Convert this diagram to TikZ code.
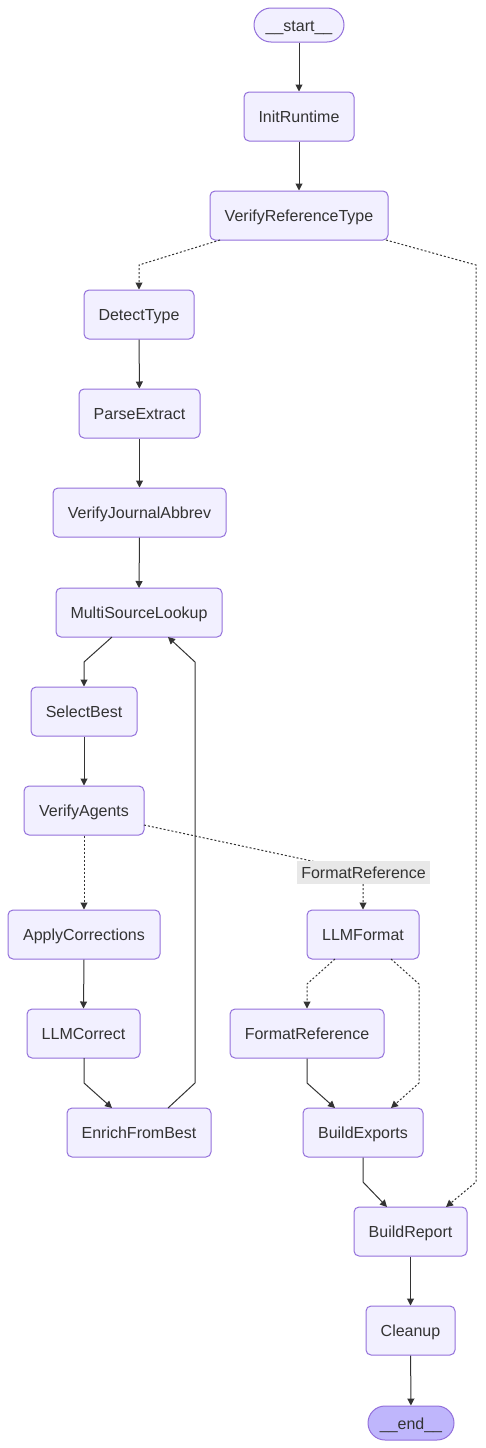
\documentclass[tikz,border=0pt]{standalone}
\usepackage{fontspec}
\setmainfont{Liberation Sans}
\usetikzlibrary{arrows.meta}
\definecolor{nodefill}{HTML}{F2F0FF}
\definecolor{nodeline}{HTML}{9370DB}
\definecolor{endfill}{HTML}{BFB6FC}
\definecolor{txt}{HTML}{333333}
\definecolor{lblbg}{HTML}{E8E8E8}
\tikzset{
  box/.style={draw=nodeline, fill=nodefill, line width=1pt, rounded corners=5pt,
    inner sep=0pt, minimum height=49pt, text=txt, text height=12pt, text depth=0pt,
    font=\fontsize{16pt}{18pt}\selectfont},
  term/.style={box, rounded corners=17pt, minimum height=34pt},
  conn/.style={draw=txt, line width=1pt, -{Triangle[length=7pt,width=7pt]}},
  dconn/.style={conn, dash pattern=on 2pt off 2pt},
  lbl/.style={fill=lblbg, inner sep=0pt, minimum width=133pt, minimum height=23pt, text=txt,
    text height=12pt, text depth=0pt, font=\fontsize{16pt}{18pt}\selectfont}
}
\begin{document}
\begin{tikzpicture}[x=1pt,y=-1pt]
\useasboundingbox (0,0) rectangle (485,1448);
\node[term, minimum width=90pt] (start) at (299,25) {\_\_start\_\_};
\node[box, minimum width=110pt] (init) at (299,116.5) {InitRuntime};
\node[box, minimum width=178pt] (vrt) at (299,215.5) {VerifyReferenceType};
\node[box, minimum width=110pt] (detect) at (139,314.5) {DetectType};
\node[box, minimum width=121pt] (parse) at (139.5,413.5) {ParseExtract};
\node[box, minimum width=173pt] (vja) at (139.5,512.5) {VerifyJournalAbbrev};
\node[box, minimum width=166pt] (msl) at (139,612.5) {MultiSourceLookup};
\node[box, minimum width=106pt] (select) at (84,711.5) {SelectBest};
\node[box, minimum width=120pt] (agents) at (84,810.5) {VerifyAgents};
\node[box, minimum width=152pt] (apply) at (84,934.5) {ApplyCorrections};
\node[box, minimum width=113pt] (llmc) at (83.5,1033.5) {LLMCorrect};
\node[box, minimum width=144pt] (enrich) at (139,1132.5) {EnrichFromBest};
\node[box, minimum width=112pt] (llmf) at (363,934.5) {LLMFormat};
\node[box, minimum width=154pt] (fref) at (307,1033.5) {FormatReference};
\node[box, minimum width=120pt] (exports) at (363,1132.5) {BuildExports};
\node[box, minimum width=113pt] (report) at (410.5,1231.5) {BuildReport};
\node[box, minimum width=89pt] (cleanup) at (410.5,1330.5) {Cleanup};
\node[term, fill=endfill, minimum width=86pt] (end) at (411,1423) {\_\_end\_\_};

% edges
\draw[conn] (start) -- (init);
\draw[conn] (init) -- (vrt);
\draw[dconn] (220,240) -- (139,265) -- (detect.north);
\draw[dconn] (386,240) -- (476,265) -- (476,1182) -- (446,1207);
\draw[conn] (detect) -- (parse);
\draw[conn] (parse.south) -- (vja.north);
\draw[conn] (vja.south) -- (139,588);
\draw[conn] (112,637) -- (84,662) -- (select.north);
\draw[conn] (select) -- (agents);
\draw[dconn] (agents) -- (apply);
\draw[dconn] (144,825) -- (363,872) -- (llmf.north);
\node[lbl] (lab) at (363.5,872.5) {FormatReference};
\draw[conn] (apply.south) -- (llmc.north);
\draw[conn] (84,1058) -- (84,1083) -- (112,1108);
\draw[conn] (168,1108) -- (195,1083) -- (195,662) -- (168,637);
\draw[dconn] (335,959) -- (307,984) -- (fref.north);
\draw[dconn] (391,959) -- (419,984) -- (419,1083) -- (391,1108);
\draw[conn] (fref.south) -- (307,1083) -- (335,1108);
\draw[conn] (exports.south) -- (363,1182) -- (387,1207);
\draw[conn] (report) -- (cleanup);
\draw[conn] (cleanup) -- (end);
\end{tikzpicture}
\end{document}
